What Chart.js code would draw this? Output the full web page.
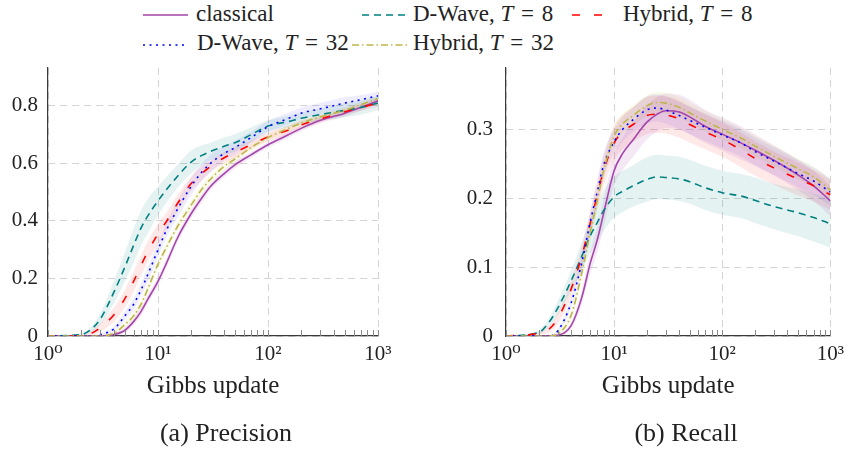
<!DOCTYPE html>
<html lang="en">
<head>
<meta charset="UTF-8">
<title>Precision and recall over Gibbs updates</title>
<style>
    body {
        margin: 0;
        width: 850px;
        height: 455px;
        position: relative;
        overflow: hidden;
        background: #fff;
        font-family: "Liberation Serif", "DejaVu Serif", serif;
        color: #222;
    }
    canvas { position: absolute; top: 0; }
    #precision { left: 0; }
    #recall { left: 425px; }
    .leg-text {
        position: absolute;
        font-size: 23px;
        line-height: 23px;
        white-space: nowrap;
    }
    .leg-text .eq { margin: 0 2px; }
    .leg-line { position: absolute; }
    .caption {
        position: absolute;
        top: 420px;
        font-size: 26px;
        line-height: 26px;
        white-space: nowrap;
        transform: translateX(-50%);
    }
</style>
</head>
<body>
<div id="legend"></div>
<canvas id="precision" width="425" height="455"></canvas>
<canvas id="recall" width="425" height="455"></canvas>
<div class="caption" style="left:226px">(a) Precision</div>
<div class="caption" style="left:686px">(b) Recall</div>

<script src="https://cdn.jsdelivr.net/npm/chart.js"></script>
<script>
// Gibbs update steps (x values, log axis)
const gibbsSteps = [1, 2, 2.5, 3, 4, 5, 6, 7, 8, 10, 12, 15, 20, 25, 30, 40, 50, 70, 100, 150, 200, 300, 500, 700, 1000];
const xTicks = [1, 10, 100, 1000];

const seriesNames = ['classical', 'D-Wave, <i>T</i> <span class="eq">=</span> 8', 'Hybrid, <i>T</i> <span class="eq">=</span> 8',
                     'D-Wave, <i>T</i> <span class="eq">=</span> 32', 'Hybrid, <i>T</i> <span class="eq">=</span> 32'];

// precision, mean per series
const precClassical = [0, 0, 0, 0, 0.005, 0.02, 0.05, 0.085, 0.125, 0.19, 0.255, 0.34, 0.425, 0.48, 0.52, 0.565, 0.595, 0.63, 0.665, 0.698, 0.722, 0.75, 0.775, 0.795, 0.818];
const precDWave8 = [0, 0.005, 0.025, 0.06, 0.155, 0.24, 0.315, 0.375, 0.415, 0.47, 0.51, 0.555, 0.605, 0.628, 0.642, 0.66, 0.672, 0.70, 0.73, 0.745, 0.757, 0.77, 0.785, 0.795, 0.81];
const precHybrid8 = [0, 0, 0.01, 0.03, 0.075, 0.13, 0.19, 0.245, 0.29, 0.355, 0.40, 0.46, 0.53, 0.565, 0.59, 0.62, 0.638, 0.665, 0.692, 0.715, 0.734, 0.755, 0.78, 0.795, 0.81];
const precDWave32 = [0, 0, 0, 0.005, 0.025, 0.07, 0.11, 0.16, 0.21, 0.30, 0.37, 0.44, 0.52, 0.57, 0.60, 0.635, 0.655, 0.69, 0.728, 0.755, 0.775, 0.79, 0.81, 0.822, 0.835];
const precHybrid32 = [0, 0, 0, 0, 0.01, 0.04, 0.07, 0.11, 0.16, 0.25, 0.31, 0.38, 0.455, 0.51, 0.545, 0.59, 0.615, 0.655, 0.69, 0.72, 0.74, 0.762, 0.785, 0.805, 0.825];

// precision, spread (shaded band half width)
const precClassicalStd = [0, 0, 0, 0, 0.005, 0.01, 0.012, 0.015, 0.015, 0.015, 0.015, 0.015, 0.015, 0.015, 0.012, 0.012, 0.012, 0.01, 0.01, 0.01, 0.01, 0.01, 0.012, 0.012, 0.012];
const precDWave8Std = [0, 0.005, 0.01, 0.02, 0.04, 0.05, 0.06, 0.06, 0.06, 0.05, 0.045, 0.04, 0.04, 0.035, 0.03, 0.03, 0.03, 0.025, 0.02, 0.02, 0.02, 0.02, 0.025, 0.025, 0.025];
const precHybrid8Std = [0, 0, 0.01, 0.015, 0.025, 0.03, 0.035, 0.035, 0.035, 0.035, 0.03, 0.03, 0.025, 0.025, 0.02, 0.02, 0.02, 0.015, 0.015, 0.015, 0.015, 0.012, 0.012, 0.012, 0.012];
const precDWave32Std = [0, 0, 0, 0.005, 0.01, 0.015, 0.02, 0.02, 0.025, 0.025, 0.025, 0.03, 0.03, 0.03, 0.03, 0.025, 0.025, 0.02, 0.02, 0.02, 0.02, 0.02, 0.02, 0.015, 0.015];
const precHybrid32Std = [0, 0, 0, 0, 0.005, 0.01, 0.015, 0.015, 0.015, 0.015, 0.015, 0.015, 0.015, 0.015, 0.012, 0.012, 0.012, 0.01, 0.01, 0.01, 0.01, 0.01, 0.01, 0.01, 0.01];

// recall, mean per series
const recClassical = [0, 0, 0, 0.001, 0.015, 0.055, 0.105, 0.14, 0.178, 0.24, 0.265, 0.285, 0.31, 0.322, 0.327, 0.325, 0.318, 0.304, 0.293, 0.28, 0.27, 0.255, 0.234, 0.218, 0.196];
const recDWave8 = [0, 0.005, 0.02, 0.04, 0.08, 0.115, 0.145, 0.165, 0.182, 0.202, 0.21, 0.218, 0.227, 0.231, 0.23, 0.228, 0.224, 0.215, 0.208, 0.203, 0.197, 0.188, 0.179, 0.172, 0.163];
const recHybrid8 = [0, 0.004, 0.01, 0.025, 0.068, 0.115, 0.163, 0.205, 0.24, 0.28, 0.296, 0.307, 0.32, 0.322, 0.321, 0.315, 0.307, 0.296, 0.285, 0.27, 0.258, 0.244, 0.228, 0.218, 0.205];
const recDWave32 = [0, 0, 0, 0.007, 0.048, 0.105, 0.165, 0.21, 0.248, 0.282, 0.30, 0.314, 0.328, 0.331, 0.328, 0.32, 0.313, 0.303, 0.292, 0.28, 0.268, 0.254, 0.236, 0.225, 0.209];
const recHybrid32 = [0, 0, 0, 0.003, 0.03, 0.09, 0.15, 0.197, 0.24, 0.29, 0.308, 0.32, 0.334, 0.339, 0.338, 0.332, 0.324, 0.312, 0.3, 0.287, 0.276, 0.261, 0.243, 0.231, 0.212];

// recall, spread
const recClassicalStd = [0, 0, 0, 0.001, 0.005, 0.01, 0.015, 0.018, 0.02, 0.022, 0.024, 0.025, 0.025, 0.025, 0.025, 0.025, 0.025, 0.024, 0.024, 0.024, 0.023, 0.022, 0.022, 0.022, 0.022];
const recDWave8Std = [0, 0.003, 0.006, 0.01, 0.015, 0.02, 0.025, 0.028, 0.03, 0.03, 0.03, 0.03, 0.032, 0.032, 0.032, 0.032, 0.032, 0.032, 0.032, 0.032, 0.033, 0.033, 0.034, 0.035, 0.035];
const recHybrid8Std = [0, 0.002, 0.005, 0.008, 0.012, 0.015, 0.018, 0.02, 0.022, 0.025, 0.025, 0.025, 0.027, 0.027, 0.027, 0.027, 0.026, 0.025, 0.025, 0.025, 0.025, 0.024, 0.024, 0.023, 0.022];
const recDWave32Std = [0, 0, 0, 0.003, 0.008, 0.012, 0.015, 0.017, 0.018, 0.018, 0.018, 0.018, 0.02, 0.02, 0.02, 0.02, 0.02, 0.02, 0.02, 0.02, 0.02, 0.02, 0.02, 0.02, 0.02];
const recHybrid32Std = [0, 0, 0, 0.002, 0.006, 0.01, 0.012, 0.013, 0.013, 0.014, 0.014, 0.015, 0.015, 0.015, 0.015, 0.015, 0.015, 0.015, 0.015, 0.015, 0.015, 0.015, 0.015, 0.015, 0.015];

const precTicks = [0, 0.2, 0.4, 0.6, 0.8];
const recTicks = [0, 0.1, 0.2, 0.3];

// styles
const lineColors = ['#a445ab', '#008080', '#ff0000', '#0000ff', '#bdb54a'];
const bandColors = ['rgba(164,69,171,0.12)', 'rgba(0,128,128,0.10)', 'rgba(255,0,0,0.09)', 'rgba(0,0,255,0.07)', 'rgba(200,200,40,0.11)'];
const lineDashes = [[], [7, 5], [8, 14], [2, 4.5], [7, 3, 1.5, 3]];

const FONT = '"Liberation Serif", "DejaVu Serif", serif';
Chart.defaults.font.family = FONT;
Chart.defaults.color = '#222';

const supDigits = ['\u2070', '\u00B9', '\u00B2', '\u00B3'];

// small inward ticks along the bottom axis (major + minor decades)
const axisTicks = {
    id: 'axisTicks',
    afterDraw(chart) {
        const ctx = chart.ctx;
        const xs = chart.scales.x;
        const bottom = chart.chartArea.bottom;
        ctx.save();
        ctx.strokeStyle = '#888';
        ctx.lineWidth = 1;
        for (let d = 1; d <= 100; d *= 10) {
            for (let m = 1; m <= 10; m++) {
                const px = Math.round(xs.getPixelForValue(m * d)) + 0.5;
                ctx.beginPath();
                ctx.moveTo(px, bottom);
                ctx.lineTo(px, bottom - 6);
                ctx.stroke();
            }
        }
        ctx.restore();
    }
};

function buildDatasets(means, spreads) {
    const lines = [];
    const bands = [];
    means.forEach((m, i) => {
        const s = spreads[i];
        const lower = gibbsSteps.map((x, j) => ({x, y: Math.max(0, m[j] - s[j])}));
        const upper = gibbsSteps.map((x, j) => ({x, y: m[j] + s[j]}));
        bands.push({lower, upper, color: bandColors[i]});
        lines.push({
            data: gibbsSteps.map((x, j) => ({x, y: m[j]})),
            borderColor: lineColors[i],
            borderDash: lineDashes[i],
            borderWidth: 1.6,
            pointRadius: 0,
            fill: false,
            cubicInterpolationMode: 'monotone',
            order: 5 - i
        });
    });
    const sets = [...lines];
    bands.forEach(b => {
        const lowIdx = sets.length;
        sets.push({data: b.lower, borderWidth: 0, pointRadius: 0, fill: false,
                   cubicInterpolationMode: 'monotone', order: 20});
        sets.push({data: b.upper, borderWidth: 0, pointRadius: 0,
                   fill: {target: lowIdx}, backgroundColor: b.color,
                   cubicInterpolationMode: 'monotone', order: 20});
    });
    return sets;
}

function makePanel(id, datasets, yMax, yTicks, axisWidth, padRight, labelPad) {
    return new Chart(document.getElementById(id), {
        type: 'line',
        data: {datasets},
        plugins: [axisTicks],
        options: {
            responsive: false,
            animation: false,
            events: [],
            layout: {padding: {left: 0, top: 68, right: padRight, bottom: 0}},
            plugins: {legend: {display: false}, tooltip: {enabled: false}},
            scales: {
                x: {
                    type: 'logarithmic',
                    min: 1,
                    max: 1000,
                    afterBuildTicks: s => { s.ticks = xTicks.map(v => ({value: v})); },
                    afterFit: s => { s.height = 119; },
                    grid: {color: '#d4d4d4', lineWidth: 1, drawTicks: false},
                    border: {display: true, color: '#3a3a3a', width: 1.2, dash: [7, 5]},
                    ticks: {
                        padding: 6,
                        maxRotation: 0,
                        autoSkip: false,
                        font: {size: 21},
                        callback: v => '10' + supDigits[Math.round(Math.log10(v))]
                    },
                    title: {display: true, text: 'Gibbs update', font: {size: 25},
                            padding: {top: 0, bottom: 54}}
                },
                y: {
                    min: 0,
                    max: yMax,
                    afterBuildTicks: s => { s.ticks = yTicks.map(v => ({value: v})); },
                    afterFit: s => { s.width = axisWidth; },
                    grid: {color: '#d4d4d4', lineWidth: 1, drawTicks: false},
                    border: {display: true, color: '#3a3a3a', width: 1.2, dash: [7, 5]},
                    ticks: {
                        padding: labelPad,
                        font: {size: 21},
                        callback: v => v === 0 ? '0' : v.toFixed(1)
                    }
                }
            }
        }
    });
}

makePanel('precision',
    buildDatasets([precClassical, precDWave8, precHybrid8, precDWave32, precHybrid32],
                  [precClassicalStd, precDWave8Std, precHybrid8Std, precDWave32Std, precHybrid32Std]),
    0.932, precTicks, 48, 47, 10);

makePanel('recall',
    buildDatasets([recClassical, recDWave8, recHybrid8, recDWave32, recHybrid32],
                  [recClassicalStd, recDWave8Std, recHybrid8Std, recDWave32Std, recHybrid32Std]),
    0.389, recTicks, 81, 14, 13);

// shared legend above both panels
const legendSlots = [
    {x1: 143, x2: 188, y: 15, tx: 196, ty: 2},
    {x1: 362, x2: 407, y: 15, tx: 413, ty: 2},
    {x1: 572, x2: 612, y: 15, tx: 623, ty: 2},
    {x1: 143, x2: 188, y: 45, tx: 197, ty: 31},
    {x1: 352, x2: 407, y: 45, tx: 413, ty: 31}
];
const legend = document.getElementById('legend');
legendSlots.forEach((p, i) => {
    const w = p.x2 - p.x1;
    const svg = `<svg class="leg-line" style="left:${p.x1}px;top:${p.y - 5}px" width="${w}" height="10">
        <line x1="0" y1="5" x2="${w}" y2="5" stroke="${lineColors[i]}" stroke-width="1.6"
              stroke-dasharray="${lineDashes[i].join(' ') || 'none'}"/></svg>`;
    legend.insertAdjacentHTML('beforeend', svg +
        `<div class="leg-text" style="left:${p.tx}px;top:${p.ty}px">${seriesNames[i]}</div>`);
});
</script>
</body>
</html>
